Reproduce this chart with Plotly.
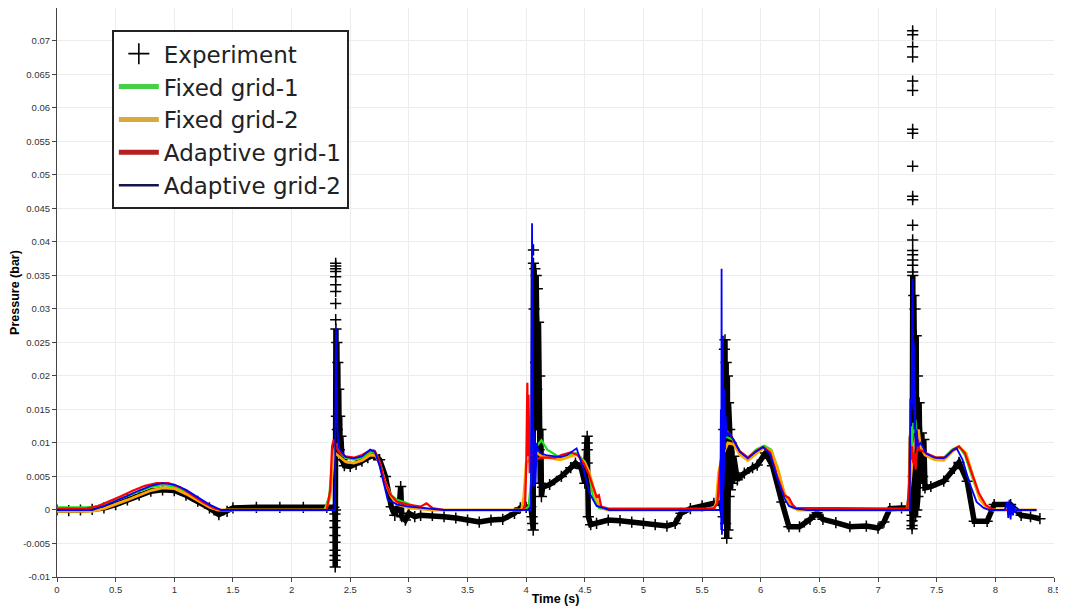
import plotly.graph_objects as go

# ---------------- data ----------------
# Experiment: (time s, pressure bar); None entries break the line so that
# isolated "+" samples stand alone.
experiment = [
    (0.0, 0.0000), (0.1, -0.0001), (0.2, 0.0000), (0.3, 0.0001), (0.4, 0.0003),
    (0.5, 0.0008), (0.6, 0.0015), (0.7, 0.0022), (0.8, 0.0028), (0.9, 0.0030),
    (1.0, 0.0029), (1.1, 0.0022), (1.2, 0.0013), (1.3, 0.0003), (1.38, -0.0007),
    (1.45, -0.0002), (1.5, 0.0003), (1.7, 0.0004), (1.9, 0.0004), (2.1, 0.0004),
    (2.3, 0.0004), (2.36, 0.0004),
    (2.37, -0.0006), (2.37, -0.0016), (2.37, -0.0026), (2.37, -0.0038), (2.37, -0.0048),
    (2.37, -0.0060), (2.37, -0.0068), (2.37, -0.0075), (2.372, -0.0085), (2.374, 0.0),
    (2.378, 0.027), (2.382, 0.014), (2.386, 0.025), (2.39, 0.012), (2.394, 0.022),
    (2.398, 0.010), (2.402, 0.018), (2.406, 0.009), (2.41, 0.014), (2.415, 0.008),
    (2.42, 0.011), (2.43, 0.0075), (2.45, 0.0066), (2.5, 0.0065), (2.55, 0.0068),
    (2.6, 0.0073), (2.65, 0.0078), (2.7, 0.0082), (2.75, 0.0075), (2.8, 0.0050),
    (2.85, 0.0005), (2.88, -0.0008), (2.92, 0.0010), (2.93, 0.0035), (2.94, -0.0010),
    (2.97, -0.0015), (3.0, -0.0005), (3.05, -0.0010), (3.1, -0.0008), (3.2, -0.0008),
    (3.3, -0.0010), (3.4, -0.0012), (3.5, -0.0015), (3.6, -0.0018), (3.7, -0.0015),
    (3.8, -0.0014), (3.9, -0.0005), (3.95, 0.0003), (4.0, 0.0004), (4.04, 0.0005),
    (4.05, -0.0010), (4.055, -0.0020), (4.06, -0.0030), (4.062, 0.0368), (4.068, 0.030),
    (4.074, 0.036), (4.08, 0.022), (4.085, 0.035), (4.09, 0.018), (4.095, 0.033),
    (4.10, 0.012), (4.105, 0.028), (4.11, 0.009), (4.115, 0.020), (4.12, 0.004),
    (4.125, 0.012), (4.13, 0.002), (4.14, 0.0034), (4.2, 0.0038), (4.3, 0.0050),
    (4.38, 0.0063), (4.42, 0.0070), (4.47, 0.0062), (4.5, 0.0040), (4.52, 0.0110),
    (4.52, 0.0070), (4.53, -0.0010), (4.55, -0.0022), (4.6, -0.0020), (4.7, -0.0015),
    (4.8, -0.0016), (4.9, -0.0018), (5.0, -0.0020), (5.1, -0.0022), (5.2, -0.0024),
    (5.27, -0.0020), (5.32, -0.0005), (5.4, 0.0002), (5.5, 0.0006), (5.6, 0.0010),
    (5.66, 0.0010), (5.68, -0.0010), (5.685, 0.012), (5.69, 0.024), (5.695, 0.0254),
    (5.70, -0.002), (5.705, 0.022), (5.71, -0.0042), (5.715, 0.020), (5.72, -0.003),
    (5.725, 0.016), (5.73, 0.002), (5.735, 0.012), (5.74, 0.003), (5.75, 0.010),
    (5.76, 0.004), (5.77, 0.008), (5.8, 0.0045), (5.86, 0.0055), (5.93, 0.0063),
    (5.97, 0.0067), (6.04, 0.0085), (6.1, 0.0066), (6.18, 0.0012), (6.24, -0.0025),
    (6.33, -0.0025), (6.42, -0.0014), (6.48, -0.0004), (6.53, -0.0014), (6.64, -0.0019),
    (6.76, -0.0025), (6.9, -0.0024), (7.0, -0.0027), (7.05, -0.0018), (7.1, 0.0002),
    (7.2, 0.0003), (7.27, 0.0004), (7.285, 0.0003),
    (7.29, -0.0008), (7.29, -0.0016), (7.29, -0.0023), (7.29, -0.0028), (7.293, 0.0),
    (7.296, 0.0350), (7.30, 0.005), (7.305, 0.032), (7.31, 0.002), (7.315, 0.030),
    (7.32, -0.001), (7.325, 0.026), (7.33, 0.0), (7.335, 0.020), (7.34, 0.002),
    (7.35, 0.016), (7.36, 0.004), (7.37, 0.0115), (7.38, 0.005), (7.39, 0.0105),
    (7.40, 0.0033), (7.45, 0.0035), (7.56, 0.0043), (7.65, 0.0062), (7.69, 0.0071),
    (7.76, 0.0043), (7.82, -0.0017), (7.93, -0.0017), (7.99, 0.0008), (8.13, 0.0008),
    (8.22, -0.0008), (8.3, -0.0010), (8.38, -0.0013),
    (None, None),
    (2.376, 0.0368), (None, None), (2.376, 0.0364), (None, None), (2.376, 0.0360),
    (None, None), (2.376, 0.0356), (None, None), (2.376, 0.0348), (None, None),
    (2.376, 0.0336), (None, None), (2.376, 0.0326), (None, None), (2.376, 0.0308),
    (None, None), (2.376, 0.0284), (None, None),
    (4.062, 0.0388), (None, None), (4.52, 0.0100), (None, None), (4.52, 0.0090), (None, None),
    (7.295, 0.0715), (None, None), (7.295, 0.0709), (None, None), (7.295, 0.0691),
    (None, None), (7.295, 0.0676), (None, None), (7.295, 0.0640), (None, None),
    (7.295, 0.0626), (None, None), (7.295, 0.0568), (None, None), (7.295, 0.0562),
    (None, None), (7.295, 0.0513), (None, None), (7.295, 0.0468), (None, None),
    (7.295, 0.0463), (None, None), (7.295, 0.0425), (None, None), (7.295, 0.0403),
    (None, None), (7.295, 0.0387), (None, None), (7.295, 0.0381), (None, None),
    (7.295, 0.0373), (None, None), (7.295, 0.0365), (None, None), (7.295, 0.0355),
]

fixed_grid_1 = [
    (0.0, 0.0004), (0.3, 0.0004), (0.4, 0.0008), (0.5, 0.0014), (0.6, 0.0021),
    (0.7, 0.0028), (0.8, 0.0034), (0.9, 0.0037), (1.0, 0.0035), (1.1, 0.0027),
    (1.2, 0.0016), (1.3, 0.0006), (1.38, 0.0), (2.28, 0.0), (2.32, 0.0020),
    (2.35, 0.0080), (2.37, 0.0095), (2.39, 0.0098), (2.42, 0.0084), (2.46, 0.0078),
    (2.53, 0.0075), (2.6, 0.0078), (2.67, 0.0086), (2.72, 0.0085), (2.76, 0.0066),
    (2.8, 0.0040), (2.85, 0.0022), (2.9, 0.0015), (2.96, 0.0012), (3.05, 0.0005),
    (3.2, 0.0), (3.98, 0.0), (4.02, 0.0005), (4.04, 0.0040), (4.05, 0.0100),
    (4.06, 0.0110), (4.07, 0.0070), (4.09, 0.0095), (4.13, 0.0104), (4.18, 0.0090),
    (4.29, 0.0078), (4.43, 0.0085), (4.5, 0.0072), (4.53, 0.0060), (4.57, 0.0020),
    (4.62, 0.0003), (4.7, 0.0), (5.6, 0.0), (5.64, 0.0020), (5.67, 0.0080),
    (5.7, 0.0110), (5.77, 0.0104), (5.82, 0.0088), (5.89, 0.0078), (5.96, 0.0090),
    (6.03, 0.0096), (6.09, 0.0090), (6.15, 0.0060), (6.2, 0.0025), (6.25, 0.0008),
    (6.3, 0.0002), (6.4, 0.0), (7.24, 0.0), (7.26, 0.0020), (7.27, 0.0110),
    (7.28, 0.0125), (7.29, 0.0090), (7.30, 0.0130), (7.31, 0.0115), (7.32, 0.0135),
    (7.33, 0.0110), (7.35, 0.0095), (7.4, 0.0085), (7.48, 0.0078), (7.56, 0.0078),
    (7.63, 0.0090), (7.69, 0.0095), (7.74, 0.0082), (7.8, 0.0050), (7.86, 0.0020),
    (7.92, 0.0005), (7.97, 0.0), (8.35, 0.0),
]

fixed_grid_2 = [
    (0.0, -0.0002), (0.3, -0.0002), (0.4, 0.0002), (0.5, 0.0008), (0.6, 0.0015),
    (0.7, 0.0022), (0.8, 0.0029), (0.9, 0.0033), (1.0, 0.0032), (1.1, 0.0024),
    (1.2, 0.0014), (1.3, 0.0004), (1.37, 0.0), (2.29, 0.0), (2.33, 0.0020),
    (2.355, 0.0075), (2.37, 0.0085), (2.39, 0.0082), (2.42, 0.0078), (2.46, 0.0072),
    (2.53, 0.0070), (2.6, 0.0074), (2.67, 0.0082), (2.72, 0.0081), (2.76, 0.0064),
    (2.8, 0.0040), (2.85, 0.0020), (2.9, 0.0008), (3.0, 0.0003), (3.2, 0.0),
    (3.96, 0.0), (3.98, 0.0020), (4.0, 0.0070), (4.03, 0.0075), (4.06, 0.0080),
    (4.1, 0.0085), (4.13, 0.0080), (4.29, 0.0075), (4.43, 0.0083), (4.5, 0.0070),
    (4.54, 0.0055), (4.6, 0.0015), (4.65, 0.0003), (4.7, 0.0), (5.5, 0.0),
    (5.6, 0.0003), (5.62, 0.0010), (5.64, 0.0055), (5.67, 0.0080), (5.72, 0.0100),
    (5.77, 0.0098), (5.82, 0.0083), (5.89, 0.0074), (5.96, 0.0084), (6.02, 0.0092),
    (6.09, 0.0088), (6.15, 0.0058), (6.2, 0.0025), (6.26, 0.0005), (6.32, 0.0),
    (7.25, 0.0), (7.28, 0.0050), (7.3, 0.0090), (7.33, 0.0115), (7.345, 0.0120),
    (7.36, 0.0095), (7.4, 0.0082), (7.48, 0.0075), (7.56, 0.0074), (7.63, 0.0087),
    (7.69, 0.0094), (7.75, 0.0085), (7.81, 0.0050), (7.87, 0.0015), (7.93, 0.0003),
    (7.98, 0.0), (8.35, 0.0),
]

adaptive_grid_1 = [
    (0.0, 0.0002), (0.25, 0.0002), (0.35, 0.0006), (0.45, 0.0013), (0.55, 0.0021),
    (0.65, 0.0029), (0.75, 0.0036), (0.85, 0.0040), (0.95, 0.0040), (1.05, 0.0034),
    (1.15, 0.0023), (1.25, 0.0011), (1.35, 0.0002), (1.4, 0.0), (2.30, 0.0),
    (2.33, 0.0030), (2.345, 0.0095), (2.36, 0.0105), (2.38, 0.0095), (2.40, 0.0087),
    (2.46, 0.0080), (2.53, 0.0078), (2.6, 0.0082), (2.67, 0.0089), (2.71, 0.0088),
    (2.75, 0.0072), (2.79, 0.0045), (2.84, 0.0024), (2.9, 0.0012), (2.99, 0.0008),
    (3.1, 0.0005), (3.15, 0.0010), (3.2, 0.0003), (3.3, 0.0), (3.97, 0.0),
    (3.99, 0.0005), (4.0, 0.0060), (4.005, 0.0160), (4.01, 0.0190), (4.015, 0.0080),
    (4.02, 0.0172), (4.025, 0.0110), (4.03, 0.0055), (4.04, 0.0090), (4.05, 0.0070),
    (4.06, 0.0085), (4.08, 0.0075), (4.12, 0.0078), (4.17, 0.0078), (4.25, 0.0078),
    (4.3, 0.0082), (4.38, 0.0086), (4.44, 0.0082), (4.49, 0.0070), (4.53, 0.0055),
    (4.56, 0.0040), (4.6, 0.0020), (4.62, 0.0022), (4.64, 0.0005), (4.7, 0.0002),
    (5.6, 0.0002), (5.63, 0.0010), (5.65, 0.0060), (5.67, 0.0090), (5.7, 0.0120),
    (5.73, 0.0115), (5.77, 0.0104), (5.82, 0.0088), (5.89, 0.0078), (5.96, 0.0088),
    (6.02, 0.0094), (6.08, 0.0086), (6.14, 0.0050), (6.2, 0.0022), (6.24, 0.0018),
    (6.27, 0.0008), (6.3, 0.0003), (7.25, 0.0002), (7.265, 0.0040), (7.27, 0.0110),
    (7.28, 0.0075), (7.29, 0.0095), (7.30, 0.0070), (7.31, 0.0085), (7.32, 0.0060),
    (7.33, 0.0085), (7.34, 0.0105), (7.35, 0.0090), (7.38, 0.0088), (7.42, 0.0084),
    (7.5, 0.0078), (7.58, 0.0079), (7.64, 0.0090), (7.69, 0.0095), (7.74, 0.0085),
    (7.8, 0.0055), (7.86, 0.0025), (7.92, 0.0007), (7.98, 0.0), (8.35, 0.0),
]

adaptive_grid_2 = [
    (0.0, 0.0), (0.3, 0.0), (0.4, 0.0006), (0.5, 0.0013), (0.6, 0.0021),
    (0.7, 0.0029), (0.8, 0.0036), (0.9, 0.0040), (1.0, 0.0038), (1.1, 0.0030),
    (1.2, 0.0019), (1.3, 0.0008), (1.4, 0.0), (2.36, 0.0), (2.37, 0.0),
    (2.375, 0.0200), (2.378, 0.0272), (2.385, 0.0200), (2.39, 0.0124), (2.40, 0.0094),
    (2.42, 0.0088), (2.46, 0.0079), (2.53, 0.0077), (2.6, 0.0080), (2.67, 0.0090),
    (2.71, 0.0087), (2.75, 0.0066), (2.79, 0.0037), (2.82, 0.0015), (2.86, 0.0012),
    (2.9, 0.0008), (3.0, 0.0005), (3.2, 0.0002), (3.3, 0.0), (4.04, 0.0),
    (4.045, 0.0240), (4.05, 0.0428), (4.055, 0.0200), (4.06, 0.0035), (4.065, 0.0120),
    (4.07, 0.0035), (4.075, 0.0104), (4.08, 0.0040), (4.09, 0.0100), (4.1, 0.0090),
    (4.12, 0.0085), (4.17, 0.0082), (4.29, 0.0079), (4.35, 0.0082), (4.43, 0.0092),
    (4.49, 0.0060), (4.54, 0.0025), (4.6, 0.0006), (4.71, 0.0), (5.655, 0.0),
    (5.66, 0.0150), (5.663, -0.0030), (5.666, 0.0360), (5.669, -0.0037), (5.672, 0.0310),
    (5.675, 0.0), (5.678, 0.0260), (5.681, 0.0030), (5.684, 0.0220), (5.687, 0.0060),
    (5.69, 0.0180), (5.695, 0.0090), (5.70, 0.0140), (5.71, 0.0110), (5.73, 0.0115),
    (5.77, 0.0104), (5.82, 0.0087), (5.89, 0.0077), (5.96, 0.0087), (6.02, 0.0094),
    (6.08, 0.0083), (6.14, 0.0048), (6.2, 0.0018), (6.24, 0.0006), (6.3, 0.0002),
    (6.4, 0.0), (7.27, 0.0), (7.275, 0.0166), (7.285, 0.0160), (7.29, 0.0260),
    (7.295, 0.0345), (7.30, 0.0150), (7.305, 0.0250), (7.31, 0.0120), (7.315, 0.0180),
    (7.32, 0.0090), (7.33, 0.0120), (7.34, 0.0095), (7.36, 0.0100), (7.38, 0.0095),
    (7.41, 0.0084), (7.48, 0.0078), (7.56, 0.0077), (7.63, 0.0088), (7.67, 0.0092),
    (7.72, 0.0075), (7.78, 0.0040), (7.84, 0.0012), (7.9, 0.0003), (7.95, 0.0),
    (8.08, 0.0), (8.10, 0.0012), (8.11, -0.0012), (8.12, 0.0015), (8.13, -0.0014),
    (8.14, 0.0010), (8.15, -0.0008), (8.16, 0.0006), (8.17, -0.0004), (8.19, 0.0002),
    (8.2, 0.0), (8.35, 0.0),
]

series_names = ["Fixed grid-1", "Fixed grid-2", "Adaptive grid-1", "Adaptive grid-2"]
series_data = [fixed_grid_1, fixed_grid_2, adaptive_grid_1, adaptive_grid_2]
series_colors = ["#1ee01e", "#ffa500", "#ff0000", "#0000ff"]
legend_colors = ["#45d045", "#dba83c", "#b52020", "#15154d"]

x_ticks = [0, 0.5, 1, 1.5, 2, 2.5, 3, 3.5, 4, 4.5, 5, 5.5, 6, 6.5, 7, 7.5, 8, 8.5]
x_tick_text = ["0", "0.5", "1", "1.5", "2", "2.5", "3", "3.5", "4", "4.5", "5",
               "5.5", "6", "6.5", "7", "7.5", "8", "8.5"]
y_ticks = [-0.01, -0.005, 0, 0.005, 0.01, 0.015, 0.02, 0.025, 0.03, 0.035, 0.04,
           0.045, 0.05, 0.055, 0.06, 0.065, 0.07]
y_tick_text = ["-0.01", "-0.005", "0", "0.005", "0.01", "0.015", "0.02", "0.025",
               "0.03", "0.035", "0.04", "0.045", "0.05", "0.055", "0.06", "0.065", "0.07"]

# ---------------- figure ----------------
def unzip(points):
    return [p[0] for p in points], [p[1] for p in points]

fig = go.Figure()

ex, ey = unzip(experiment)
fig.add_trace(go.Scatter(
    x=ex, y=ey, mode="lines+markers", showlegend=False, connectgaps=False,
    line=dict(color="black", width=5.5),
    marker=dict(symbol="cross-thin", size=8, color="black",
                line=dict(color="black", width=1.5)),
))

line_widths = [2.2, 2.8, 2.2, 1.8]
for data, name, col, w in zip(series_data, series_names, series_colors, line_widths):
    sx, sy = unzip(data)
    fig.add_trace(go.Scatter(x=sx, y=sy, mode="lines", name=name, showlegend=False,
                             line=dict(color=col, width=w)))

# legend entries
fig.add_trace(go.Scatter(
    x=[None], y=[None], mode="markers", name="Experiment",
    marker=dict(symbol="cross-thin", size=15, color="black",
                line=dict(color="black", width=1.6)),
))
legend_widths = [5, 5, 5, 2.5]
for name, col, w in zip(series_names, legend_colors, legend_widths):
    fig.add_trace(go.Scatter(x=[None], y=[None], mode="lines", name=name,
                             line=dict(color=col, width=w)))

axis_common = dict(
    showgrid=True, gridcolor="#ececec", gridwidth=1,
    showline=True, linecolor="#444444", linewidth=1,
    ticks="outside", ticklen=4, tickcolor="#444444",
    tickfont=dict(family="Liberation Sans", size=9.5, color="#333333"),
    zeroline=False, automargin=False,
)

# The page body adds an 8 px offset, so the figure is sized to fit the window.
fig.update_layout(
    width=1058, height=598,
    margin=dict(l=49, r=12, t=0, b=29),
    paper_bgcolor="white", plot_bgcolor="white",
    xaxis=dict(range=[0, 8.5], tickvals=x_ticks, ticktext=x_tick_text,
               title=dict(text="<b>Time (s)</b>", standoff=2,
                          font=dict(family="Liberation Sans", size=12.5, color="black")),
               **axis_common),
    yaxis=dict(range=[-0.01, 0.0749], tickvals=y_ticks, ticktext=y_tick_text,
               title=dict(text="<b>Pressure (bar)</b>", standoff=4,
                          font=dict(family="Liberation Sans", size=12.5, color="black")),
               **axis_common),
    legend=dict(x=0.055, y=0.961, xanchor="left", yanchor="top",
                bgcolor="white", bordercolor="#222222", borderwidth=2,
                font=dict(family="DejaVu Sans", size=23, color="#222222"),
                tracegroupgap=0, itemwidth=40),
)

fig.write_html("out.html")
